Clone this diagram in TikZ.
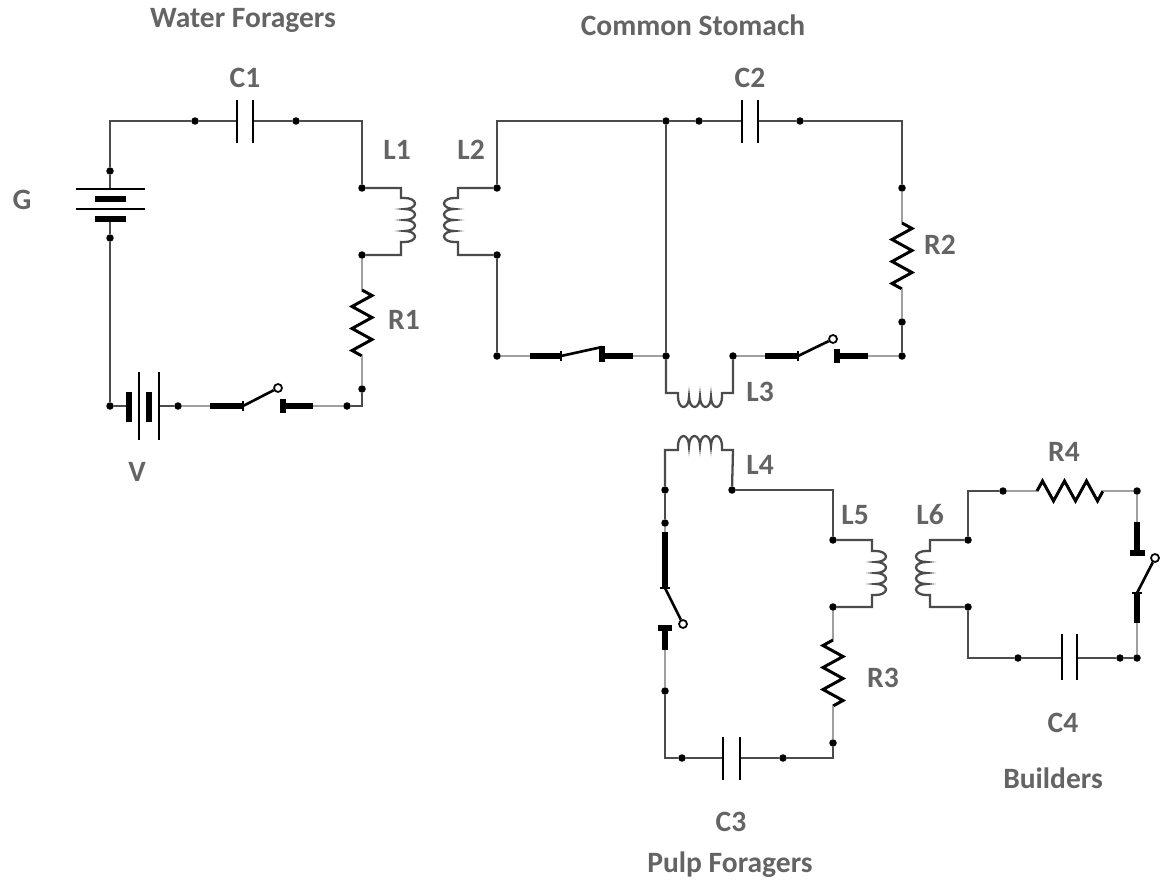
\documentclass[tikz,border=0pt]{standalone}
\usepackage{fontspec}
\setmainfont{Carlito}
\usepackage{xcolor}
\definecolor{WireGray}{RGB}{75,75,75}
\definecolor{LeadGray}{RGB}{160,160,160}
\definecolor{LabelGray}{RGB}{100,100,100}
\usepackage{tikz}
\usetikzlibrary{
  positioning,
  calc
}
\tikzset{
  % Junction dot
  jdot/.style={
    circle,
    fill=black,
    inner sep=0pt,
    minimum size=0.15cm
  },
  % Open end of a switch lever
  odot/.style={
    circle,
    draw=black,
    fill=white,
    line width=1pt,
    inner sep=0pt,
    minimum size=0.16cm
  },
  % Plain wire
  wire/.style={
    draw=WireGray,
    line width=1.3pt
  },
  % Light lead next to a part
  lead/.style={
    draw=LeadGray,
    line width=1.3pt
  },
  % Switch bar and contact
  blade/.style={draw=black, line width=2.9pt},
  % Switch lever
  lever/.style={draw=black, line width=1.5pt},
  % Capacitor plate, thin battery cell
  plate/.style={draw=black, line width=1.6pt},
  % Resistor zigzag
  zig/.style={draw=black, line width=1.7pt},
  % Coil
  coil/.style={draw=WireGray, line width=1.3pt},
  % Part label
  clabel/.style={
    font=\fontsize{16.8}{19}\selectfont\bfseries,
    text=LabelGray,
    inner sep=0pt
  },
  % Circuit title
  ctitle/.style={
    font=\fontsize{16.8}{19}\selectfont\bfseries,
    text=LabelGray,
    inner sep=0pt
  }
}

\begin{document}
\begin{tikzpicture}[x=0.02cm, y=-0.02cm]
  \useasboundingbox (0,0) rectangle (1163,882);

  % dots
  \foreach \n/\x/\y in {w1/195/121, w2/296/121, g1/110/171, g2/110/238, v1/110/406, v2/178/406,
      s1e/347/406, r1b/362/389, l1a/362/188, l1b/362/255,
      c2a/699/121, c2b/800/121, jt/666/121, l2a/497/188, l2b/497/255, s2a/497/356, jb/666/356,
      l3b/733/356, r2a/902/188, r2b/902/322, s3e/902/356,
      l4a/665/490, s4a/665/523, s4b/665/691, c3a/682/758, c3b/783/758, r3b/833/743,
      l4b/732/490, l5a/833/540, l5b/833/607,
      l6a/968/540, l6b/968/607, r4a/1003/491, r4b/1137/491, s5b/1137/658, c4a/1018/658, c4b/1120/658} {
    \node[jdot] (\n) at (\x,\y) {};
  }
  % corners
  \foreach \n/\x/\y in {k1tl/110/121, k1tr/362/121, k1br/362/406, k2tl/497/121, k2tr/902/121,
      k3bl/665/758, k3br/833/758, k3tr/833/490, k4tl/968/491, k4bl/968/658} {
    \coordinate (\n) at (\x,\y);
  }

  % ---------------- Water Foragers ----------------
  \node[ctitle] (tWater) at (243,20) {Water Foragers};
  \node[clabel] (lC1) at (245,78) {C1};
  \node[clabel] (lG) at (22,200) {G};
  \node[clabel] (lV) at (137,472) {V};
  \node[clabel] (lL1) at (397,150) {L1};
  \node[clabel] (lR1) at (404,320) {R1};

  \draw[wire] (g1) -- (k1tl) -- (w1);
  \draw[wire] (w2) -- (k1tr) -- (l1a);
  \draw[wire] (g2) -- (v1);
  \draw[wire] (s1e) -- (k1br) -- (r1b);
  % C1
  \coordinate (c1p) at (237,121);
  \coordinate (c1q) at (253,121);
  \draw[wire] (w1) -- (c1p);
  \draw[wire] (c1q) -- (w2);
  \draw[plate] ($(c1p)+(0,-21)$) -- ($(c1p)+(0,22)$);
  \draw[plate] ($(c1q)+(0,-21)$) -- ($(c1q)+(0,22)$);
  % G
  \coordinate (gA) at (110,189);
  \coordinate (gB) at (110,219);
  \draw[wire] (g1) -- (gA);
  \draw[wire] (gB) -- (g2);
  \draw[plate] (76,189) -- (145,189) (76,209) -- (145,209);
  \draw[blade] (95,199) -- (126,199) (95,219) -- (126,219);
  % V
  \coordinate (vA) at (126,406);
  \coordinate (vB) at (159,406);
  \draw[wire] (v1) -- (vA);
  \draw[wire] (vB) -- (v2);
  \draw[blade] (129,392) -- (129,422) (149,392) -- (149,422);
  \draw[plate] (139,372) -- (139,440) (159,372) -- (159,440);
  % S1
  \node[odot] (s1o) at (278,388) {};
  \draw[lead] (v2) -- (210,406);
  \draw[blade] (210,406) -- (243,406);
  \draw[lever] (243,401) -- (243,411);
  \draw[lever] (243,406) -- (s1o);
  \draw[blade] (283,399) -- (283,413);
  \draw[blade] (283,406) -- (313,406);
  \draw[lead] (313,406) -- (s1e);
  % L1
  \draw[coil] (l1a) -- (401,188) -- (401,198) -- (405,198)
    \foreach \k in {1,...,4} {arc[start angle=90, end angle=-90, x radius=0.2cm, y radius=0.11cm]}
    -- (401,242) -- (401,255) -- (l1b);
  \draw[coil] \foreach \j in {1,2,3} {(401,198+11*\j) -- (405,198+11*\j)};
  % R1
  \draw[lead] (l1b) -- (362,290);
  \draw[zig] (362,290) -- ++(10,5.5) \foreach \k in {1,2} {-- ++(-20,11) -- ++(20,11)}
    -- ++(-20,11) -- ++(10,5.5);
  \draw[lead] (362,356) -- (r1b);

  % ---------------- Common Stomach ----------------
  \node[ctitle] (tStomach) at (693,25) {Common Stomach};
  \node[clabel] (lC2) at (750,78) {C2};
  \node[clabel] (lL2) at (471,150) {L2};
  \node[clabel] (lR2) at (940,245) {R2};
  \node[clabel] (lL3) at (760,392) {L3};

  \draw[wire] (l2a) -- (k2tl) -- (jt) -- (c2a);
  \draw[wire] (c2b) -- (k2tr) -- (r2a);
  \draw[wire] (jt) -- (jb);
  \draw[wire] (l2b) -- (s2a);
  \draw[wire] (r2b) -- (s3e);
  % C2
  \draw[wire] (c2a) -- (742,121);
  \draw[wire] (758,121) -- (c2b);
  \draw[plate] (742,100) -- (742,143) (758,100) -- (758,143);
  % L2
  \draw[coil] (l2a) -- (458,188) -- (458,198) -- (454,198)
    \foreach \k in {1,...,4} {arc[start angle=90, end angle=270, x radius=0.2cm, y radius=0.11cm]}
    -- (458,242) -- (458,255) -- (l2b);
  \draw[coil] \foreach \j in {1,2,3} {(458,198+11*\j) -- (454,198+11*\j)};
  % S2
  \draw[lead] (s2a) -- (530,356);
  \draw[blade] (530,356) -- (561,356);
  \draw[lever] (561,351) -- (561,361);
  \draw[lever] (561,356) -- (602,347);
  \draw[blade] (602,346) -- (602,362);
  \draw[blade] (602,356) -- (633,356);
  \draw[lead] (633,356) -- (jb);
  % L3
  \draw[coil] (jb) -- (666,393) -- (678,393) -- (678,397)
    \foreach \k in {1,...,4} {arc[start angle=180, end angle=360, x radius=0.11cm, y radius=0.2cm]}
    -- (722,393) -- (733,393) -- (l3b);
  \draw[coil] \foreach \j in {1,2,3} {(678+11*\j,393) -- (678+11*\j,397)};
  % S3
  \node[odot] (s3o) at (833,339) {};
  \draw[lead] (l3b) -- (765,356);
  \draw[blade] (765,356) -- (798,356);
  \draw[lever] (798,351) -- (798,361);
  \draw[lever] (798,356) -- (s3o);
  \draw[blade] (837,349) -- (837,363);
  \draw[blade] (837,356) -- (868,356);
  \draw[lead] (868,356) -- (s3e);
  % R2
  \draw[lead] (r2a) -- (902,223);
  \draw[zig] (902,223) -- ++(10,5.5) \foreach \k in {1,2} {-- ++(-20,11) -- ++(20,11)}
    -- ++(-20,11) -- ++(10,5.5);
  \draw[lead] (902,289) -- (r2b);

  % ---------------- Pulp Foragers ----------------
  \node[ctitle] (tPulp) at (730,865) {Pulp Foragers};
  \node[clabel] (lL4) at (760,465) {L4};
  \node[clabel] (lL5) at (855,515) {L5};
  \node[clabel] (lR3) at (883,678) {R3};
  \node[clabel] (lC3) at (731,822) {C3};

  \draw[wire] (l4b) -- (k3tr) -- (l5a);
  \draw[wire] (l4a) -- (s4a);
  \draw[wire] (s4b) -- (k3bl) -- (c3a);
  \draw[wire] (c3b) -- (k3br) -- (r3b);
  % L4
  \draw[coil] (l4a) -- (665,450) -- (678,450) -- (678,446)
    \foreach \k in {1,...,4} {arc[start angle=180, end angle=0, x radius=0.11cm, y radius=0.2cm]}
    -- (722,450) -- (733,450) -- (l4b);
  \draw[coil] \foreach \j in {1,2,3} {(678+11*\j,450) -- (678+11*\j,446)};
  % S4
  \node[odot] (s4o) at (683,624) {};
  \draw[lead] (s4a) -- (665,532);
  \draw[blade] (665,532) -- (665,588);
  \draw[lever] (660,588) -- (670,588);
  \draw[lever] (665,588) -- (s4o);
  \draw[blade] (658,628) -- (672,628);
  \draw[blade] (665,628) -- (665,650);
  \draw[lead] (665,650) -- (s4b);
  % C3
  \draw[wire] (c3a) -- (723,758);
  \draw[wire] (740,758) -- (c3b);
  \draw[plate] (723,737) -- (723,780) (740,737) -- (740,780);
  % L5
  \draw[coil] (l5a) -- (872,540) -- (872,551) -- (876,551)
    \foreach \k in {1,...,4} {arc[start angle=90, end angle=-90, x radius=0.2cm, y radius=0.11cm]}
    -- (872,595) -- (872,607) -- (l5b);
  \draw[coil] \foreach \j in {1,2,3} {(872,551+11*\j) -- (876,551+11*\j)};
  % R3
  \draw[lead] (l5b) -- (833,640);
  \draw[zig] (833,640) -- ++(-10,5.5) \foreach \k in {1,2} {-- ++(20,11) -- ++(-20,11)}
    -- ++(20,11) -- ++(-10,5.5);
  \draw[lead] (833,706) -- (r3b);

  % ---------------- Builders ----------------
  \node[ctitle] (tBuild) at (1053,778) {Builders};
  \node[clabel] (lR4) at (1064,452) {R4};
  \node[clabel] (lL6) at (930,515) {L6};
  \node[clabel] (lC4) at (1063,723) {C4};

  \draw[wire] (l6a) -- (k4tl) -- (r4a);
  \draw[wire] (l6b) -- (k4bl) -- (c4a);
  \draw[wire] (c4b) -- (s5b);
  % L6
  \draw[coil] (l6a) -- (930,540) -- (930,551) -- (926,551)
    \foreach \k in {1,...,4} {arc[start angle=90, end angle=270, x radius=0.2cm, y radius=0.11cm]}
    -- (930,595) -- (930,607) -- (l6b);
  \draw[coil] \foreach \j in {1,2,3} {(930,551+11*\j) -- (926,551+11*\j)};
  % R4
  \draw[lead] (r4a) -- (1037,491);
  \draw[zig] (1037,491) -- ++(5.5,-10) \foreach \k in {1,2} {-- ++(11,20) -- ++(11,-20)}
    -- ++(11,20) -- ++(5.5,-10);
  \draw[lead] (1103,491) -- (r4b);
  % S5
  \node[odot] (s5o) at (1155,558) {};
  \draw[lead] (r4b) -- (1137,522);
  \draw[blade] (1137,522) -- (1137,553);
  \draw[blade] (1130,553) -- (1145,553);
  \draw[lever] (1132,593) -- (1142,593);
  \draw[lever] (1137,593) -- (s5o);
  \draw[blade] (1137,593) -- (1137,623);
  \draw[lead] (1137,623) -- (s5b);
  % C4
  \draw[wire] (c4a) -- (1062,658);
  \draw[wire] (1077,658) -- (c4b);
  \draw[plate] (1062,634) -- (1062,680) (1077,634) -- (1077,680);
\end{tikzpicture}
\end{document}
